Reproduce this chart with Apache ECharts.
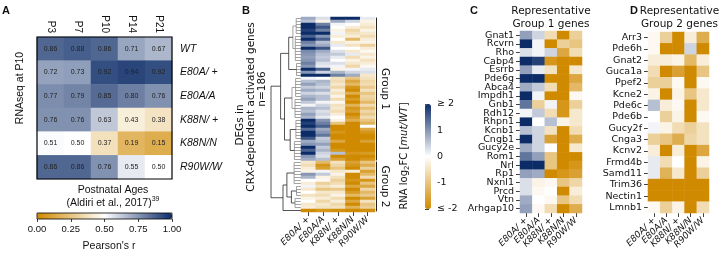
<!DOCTYPE html>
<html>
<head>
<meta charset="utf-8">
<script src="https://cdn.jsdelivr.net/npm/echarts@6/dist/echarts.min.js"></script>
<style>html,body{margin:0;padding:0;background:#fff}#chart{width:720px;height:258px}</style>
</head>
<body>
<div id="chart"></div>
<script>
// ---- panel A: Pearson's r vs Aldiri et al. ----
var ages = ['P3', 'P7', 'P10', 'P14', 'P21'];
var genotypes = ['WT', 'E80A/ +', 'E80A/A', 'K88N/ +', 'K88N/N', 'R90W/W'];
var pearsonR = [
    [0.86, 0.88, 0.86, 0.71, 0.67],
    [0.72, 0.73, 0.92, 0.94, 0.92],
    [0.77, 0.79, 0.85, 0.80, 0.76],
    [0.76, 0.76, 0.63, 0.43, 0.38],
    [0.51, 0.50, 0.37, 0.19, 0.15],
    [0.86, 0.86, 0.76, 0.55, 0.50]
];

// ---- panel B: log2FC of CRX-dependent activated DEGs (rows in clustered order) ----
var mutants = ['E80A/ +', 'E80A/A', 'K88N/ +', 'K88N/N', 'R90W/W'];
var degE80AHet = [0.8,0.6,2,2,1.8,2,1.5,2,1.2,1.0, 2,1.1,1.0,0.9,1.0,1.2,1.0,2,1.0,2, 0.1,0.6,0.9,0.5,0.8,0.4,0.7,0.9,0.5,0.1, 0.7,0.6,0.9,0.7,2,1.8,2,1.4,2,2, 1.6,0.8,1.0,2,1.5,2,1.0,0.8,-0.4,-0.6, -0.3,-0.2,1.0,0.7,0.0,-0.3,0.1,-0.4,0.0,-0.5, -0.2,0.0,-0.4,-0.3,-2];
var degE80AHom = [0.3,-0.2,1.2,1.6,1.2,2,1.0,1.5,0.6,0.8, 1.6,0.8,0.6,0.5,0.6,0.3,0.2,1.5,0.4,2, 0.0,0.7,0.6,0.4,0.7,0.3,0.6,0.6,0.1,0.4, 0.6,0.3,0.4,0.2,1.0,1.2,1.5,0.8,1.0,1.3, 0.5,0.6,0.9,0.5,0.7,0.4,0.3,0.6,-1.2,-1.8, -1.6,0.1,0.5,-0.2,-0.1,-0.8,-0.5,-1.0,-0.4,-0.6, -0.3,-0.7,-0.4,-0.5,-1.8];
var degK88NHet = [2,0.8,0.1,0.0,-0.2,0.1,-0.3,0.0,-0.4,0.2, 0.0,0.3,0.5,0.2,0.0,0.3,0.1,-0.2,0.7,1.2, -0.5,-0.6,-0.4,-0.7,-0.3,-0.5,-0.2,-0.6,-0.1,-0.5, -0.4,-0.6,-0.3,0.0,-0.2,-1.0,-2,-2,-1.8,-2, -2,-1.5,-2,-2,-1.8,0.6,-2,-1.6,-0.5,-0.7, -1.0,-0.4,-0.2,-0.5,-0.8,-0.6,-0.3,-0.9,-0.4,-0.2, -0.6,-0.3,-0.7,-0.5,-1.9];
var degK88NHom = [2,0.4,0.0,-0.3,-0.7,-0.5,-0.3,-1.2,-0.2,-0.5, 0.0,-0.4,0.2,-0.6,-0.2,-0.4,-0.7,0.1,0.4,0.8, -1.0,-1.5,-1.2,-1.8,-2,-1.4,-2,-1.7,-2,-1.3, -1.8,-1.6,-2,-1.7,-1.4,-2,-2,-2,-2,-2, -2,-2,-2,-2,-2,-1.8,-2,-2,-1.6,-1.8, -2,-0.3,-2,-2,-1.8,-2,-1.5,-2,-1.7,-1.2, -2,-1.5,-2,-1.3,-2];
var degR90WHom = [0.2,-0.2,-0.3,-0.5,-0.2,-0.4,-0.6,-0.3,-0.2,-0.8, -0.3,-0.1,-0.4,-0.2,-0.5,-0.3,-0.1,0.2,0.3,-0.4, -0.5,-0.7,-0.6,-0.9,-0.5,-1.0,-0.7,-0.8,-1.2,-0.6, -1.1,-0.7,-0.9,-0.6,-1.0,-1.3,0.0,-1.5,-1.8,-2, -2,-1.6,-2,-2,-2,-1.7,-2,-1.8,-1.0,-1.4, -0.8,-1.6,-1.2,-0.6,-1.8,-1.0,-1.5,-0.7,-1.2,-0.9, -1.6,-0.5,-1.0,-0.8,-1.9];
var groupNames = ['Group 1', 'Group 2'];
var groupRows = [[0, 47], [48, 64]];
// dendrogram: [height, childA, childB]; a leaf cluster is [height, firstRow, lastRow]
var dendroTree = [10,
    [6.8,
        [4.1, [2.7, [1.6, 0, 5], [1.9, 6, 14]], [1.5, 15, 19]],
        [5.5, [3.0, [1.8, 20, 26], [2.0, 27, 33]], [3.6, [1.7, 34, 40], [2.2, 41, 47]]]],
    [6.0,
        [4.7, [2.3, 48, 55], [3.2, [1.5, 56, 59], [2.0, 60, 63]]],
        [0, 64, 64]]];
var fcTicks = [-2, -1, 0, 1, 2];
var fcTickLabels = ['≤ -2', '-1', '0', '1', '≥ 2'];

// ---- panels C and D: representative genes ----
var group1Genes = ['Gnat1','Rcvrn','Rho','Cabp4','Esrrb','Pde6g','Abca4','Impdh1','Gnb1','Rdh12','Rhpn1','Kcnb1','Cngb1','Gucy2e','Rom1','Nrl','Rp1','Nxnl1','Prcd','Vtn','Arhgap10'];
var group1FC = [
    [0.9, 0.4, -0.6, -2, -0.8],
    [2, 0.1, -2, -0.8, -1.0],
    [0.3, 0.1, 0.4, -1.5, -0.6],
    [2, 1.8, -1.8, -2, -2],
    [0.9, 0.2, -0.5, -2, -0.4],
    [2, 2, -2, -2, -1.5],
    [0.8, 0.5, -0.6, -2, -1.2],
    [2, 0.1, -2, -2, -0.1],
    [1.3, -0.8, 0.1, -1.8, -0.8],
    [0.1, 0.5, -0.6, -1.8, -0.4],
    [2, 0.0, 0.6, -0.2, -0.4],
    [0.6, 0.4, -0.5, -2, -0.6],
    [2, 0.4, -1.6, -2, -1.4],
    [0.8, 0.4, 0.0, -2, -0.4],
    [1.3, 0.9, -1.0, -2, -2],
    [2, 2, -1.0, -2, -1.8],
    [0.9, 0.8, -2, -1.8, -1.6],
    [0.3, -0.2, -0.1, -1.0, -0.7],
    [0.3, -0.1, 0.0, -2, -0.3],
    [0.8, 0.0, -0.1, -1.0, -0.6],
    [0.9, -0.1, -0.6, -2, -1.4]
];
var group2Genes = ['Arr3','Pde6h','Gnat2','Guca1a','Ppef2','Kcne2','Pde6c','Pde6b','Gucy2f','Cnga3','Kcnv2','Frmd4b','Samd11','Trim36','Nectin1','Lmnb1'];
var group2FC = [
    [-0.1, -0.8, -2, -0.3, -1.4],
    [-0.1, -2, -2, 0.4, -2],
    [-0.3, -0.3, -0.2, -1.2, -0.3],
    [-0.6, -2, -1.6, -2, -1.0],
    [-0.8, -0.8, -0.1, -2, -0.1],
    [-0.2, -2, -0.2, -1.0, -0.4],
    [0.6, -0.3, -0.1, -2, -0.4],
    [0.0, -0.8, -0.2, -2, -0.1],
    [0.1, -0.2, -0.6, -0.8, -0.5],
    [-0.8, -1.0, -1.4, -0.7, -0.5],
    [-0.3, -2, -0.3, -2, -1.5],
    [0.2, -0.6, 0.0, -2, -0.2],
    [0.2, -1.3, -0.4, -2, -0.8],
    [-2, -2, -2, -2, -2],
    [-2, -2, -2, -2, -2],
    [-0.1, -0.8, -0.2, -2, -0.6]
];

var palette = ['#d08a00', '#ffffff', '#0c2c68'];
var fontA = 'Liberation Sans';
var fontB = 'DejaVu Sans';
var ink = '#111';

var gA = {left: 37, top: 37, width: 135, height: 142};
var gAcb = {left: 37, top: 213, width: 135, height: 6};
var gDen = {left: 271, top: 17, width: 30, height: 195};
var gB = {left: 301, top: 17, width: 74, height: 195};
var gBcb = {left: 425, top: 104, width: 6, height: 105};
var gC = {left: 520, top: 31, width: 62, height: 182};
var gD = {left: 648, top: 32, width: 61, height: 181};

function matrixToCells(rows) {
    var out = [];
    for (var r = 0; r < rows.length; r++) {
        for (var c = 0; c < rows[r].length; c++) {
            out.push([c, r, rows[r][c]]);
        }
    }
    return out;
}

var degColumns = [degE80AHet, degE80AHom, degK88NHet, degK88NHom, degR90WHom];
var degRows = degE80AHet.map(function(v, i) { return 'g' + i; });
var degCells = [];
for (var c = 0; c < degColumns.length; c++) {
    for (var r = 0; r < degColumns[c].length; r++) {
        degCells.push([c, r, degColumns[c][r]]);
    }
}

// turn the tree into line segments [h1, row1, h2, row2]
var dendroSegs = [];
function walk(node) {
    var h = node[0];
    if (typeof node[1] === 'number') {
        var a = node[1], b = node[2];
        if (a === b) return {y: a, h: h};
        for (var i = a; i <= b; i++) dendroSegs.push([0, i, h, i]);
        dendroSegs.push([h, a, h, b]);
        return {y: (a + b) / 2, h: h};
    }
    var l = walk(node[1]);
    var r = walk(node[2]);
    dendroSegs.push([l.h, l.y, h, l.y]);
    dendroSegs.push([r.h, r.y, h, r.y]);
    dendroSegs.push([h, l.y, h, r.y]);
    return {y: (l.y + r.y) / 2, h: h};
}
walk(dendroTree);

function gridOf(g) {
    return {left: g.left, top: g.top, width: g.width, height: g.height, outerBoundsMode: 'none', containLabel: false};
}
function catX(grid, data) {
    return {
        type: 'category', gridIndex: grid, data: data, position: 'bottom',
        axisLine: {show: false}, axisTick: {show: true, alignWithLabel: true, length: 4, lineStyle: {color: ink, width: 0.8}},
        axisLabel: {rotate: 45, fontFamily: fontB, fontStyle: 'italic', fontSize: 9, color: ink, margin: 6, interval: 0},
        splitLine: {show: false}
    };
}
function geneY(grid, data) {
    return {
        type: 'category', gridIndex: grid, data: data, inverse: true, position: 'left',
        axisLine: {show: false}, axisTick: {show: true, alignWithLabel: true, length: 4, lineStyle: {color: ink, width: 0.8}},
        axisLabel: {fontFamily: fontB, fontSize: 9.5, color: ink, margin: 6, interval: 0},
        splitLine: {show: false}
    };
}
function hiddenAxis(grid, type, min, max, inverse) {
    return {type: type, gridIndex: grid, min: min, max: max, inverse: !!inverse, show: false, splitLine: {show: false}};
}

var chart = echarts.init(document.getElementById('chart'), null, {renderer: 'canvas'});
var option = {
    animation: false,
    backgroundColor: '#fff',
    grid: [gridOf(gA), gridOf(gAcb), gridOf(gDen), gridOf(gB), gridOf(gBcb), gridOf(gC), gridOf(gD)],
    xAxis: [
        {
            type: 'category', gridIndex: 0, data: ages, position: 'top',
            axisLine: {show: false}, axisTick: {alignWithLabel: true, length: 4, lineStyle: {color: ink, width: 0.8}},
            axisLabel: {rotate: 90, fontFamily: fontA, fontSize: 10, color: ink, margin: 4}
        },
        {
            type: 'value', gridIndex: 1, min: 0, max: 1, interval: 0.25, position: 'bottom',
            axisLine: {show: false}, splitLine: {show: false},
            axisTick: {show: true, length: 3, lineStyle: {color: ink, width: 0.8}},
            axisLabel: {fontFamily: fontA, fontSize: 9.5, color: ink, margin: 5, formatter: function(v) { return v.toFixed(2); }}
        },
        hiddenAxis(2, 'value', 0, 10, true),
        catX(3, mutants),
        hiddenAxis(4, 'value', 0, 1),
        catX(5, mutants),
        catX(6, mutants)
    ],
    yAxis: [
        {
            type: 'category', gridIndex: 0, data: genotypes, inverse: true, position: 'right',
            axisLine: {show: false}, axisTick: {alignWithLabel: true, length: 4, lineStyle: {color: ink, width: 0.8}},
            axisLabel: {fontFamily: fontA, fontStyle: 'italic', fontSize: 10.5, color: ink, margin: 8}
        },
        hiddenAxis(1, 'value', 0, 1),
        hiddenAxis(2, 'value', -0.5, degRows.length - 0.5, true),
        {type: 'category', gridIndex: 3, data: degRows, inverse: true, show: false},
        {
            type: 'value', gridIndex: 4, min: -2, max: 2, interval: 1, position: 'right',
            axisLine: {show: false}, splitLine: {show: false},
            axisTick: {show: true, length: 4, lineStyle: {color: ink, width: 0.8}},
            axisLabel: {fontFamily: fontB, fontSize: 9.5, color: ink, margin: 6, formatter: function(v) { return fcTickLabels[fcTicks.indexOf(v)]; }}
        },
        geneY(5, group1Genes),
        geneY(6, group2Genes)
    ],
    visualMap: [
        {
            type: 'continuous', min: 0, max: 1, seriesIndex: [0], orient: 'horizontal',
            left: gAcb.left, top: gAcb.top, itemWidth: gAcb.height, itemHeight: gAcb.width,
            padding: 0, calculable: false, hoverLink: false, realtime: false,
            inRange: {color: palette}
        },
        {
            type: 'continuous', min: -2, max: 2, seriesIndex: [2, 3, 4], orient: 'vertical',
            left: gBcb.left, top: gBcb.top, itemWidth: gBcb.width, itemHeight: gBcb.height,
            padding: 0, calculable: false, hoverLink: false, realtime: false,
            inRange: {color: palette}
        }
    ],
    series: [
        {
            type: 'heatmap', xAxisIndex: 0, yAxisIndex: 0, data: matrixToCells(pearsonR), silent: true,
            label: {show: true, fontFamily: fontA, fontSize: 7, color: '#222', formatter: function(p) { return p.value[2].toFixed(2); }},
            itemStyle: {borderWidth: 0}
        },
        {
            type: 'custom', xAxisIndex: 2, yAxisIndex: 2, data: dendroSegs, silent: true,
            encode: {x: [0, 2], y: [1, 3]},
            renderItem: function(params, api) {
                var p1 = api.coord([api.value(0), api.value(1)]);
                var p2 = api.coord([api.value(2), api.value(3)]);
                return {
                    type: 'line',
                    shape: {x1: p1[0], y1: p1[1], x2: p2[0], y2: p2[1]},
                    style: {stroke: api.value(2) > 3 ? '#2a2a2a' : '#8c8c8c', lineWidth: 0.8}
                };
            }
        },
        {type: 'heatmap', xAxisIndex: 3, yAxisIndex: 3, data: degCells, silent: true, itemStyle: {borderWidth: 0}},
        {type: 'heatmap', xAxisIndex: 5, yAxisIndex: 5, data: matrixToCells(group1FC), silent: true, itemStyle: {borderWidth: 0}},
        {type: 'heatmap', xAxisIndex: 6, yAxisIndex: 6, data: matrixToCells(group2FC), silent: true, itemStyle: {borderWidth: 0}}
    ]
};
chart.setOption(option);

// annotations placed from the axes
function txt(x, y, text, size, opts) {
    return Object.assign({
        type: 'text', x: x, y: y, silent: true,
        style: {text: text, fontFamily: fontB, fontSize: size, fill: ink, align: 'center', verticalAlign: 'middle'}
    }, opts || {});
}
function letter(x, t) {
    return {type: 'text', x: x, y: 11, silent: true,
        style: {text: t, fontFamily: fontA, fontWeight: 'bold', fontSize: 11, fill: ink, align: 'center', verticalAlign: 'middle'}};
}
function frame(g, w) {
    return {type: 'rect', silent: true, z: 10, shape: {x: g.left, y: g.top, width: g.width, height: g.height},
        style: {fill: 'none', stroke: '#000', lineWidth: w}};
}
var graphics = [
    letter(6, 'A'), letter(246, 'B'), letter(474, 'C'), letter(634, 'D'),
    frame(gA, 1.2),
    frame(gAcb, 0.8),
    {type: 'text', x: 20, y: 88, rotation: Math.PI / 2, silent: true,
        style: {text: 'RNAseq at P10', fontFamily: fontA, fontSize: 10.5, fill: ink, align: 'center', verticalAlign: 'middle'}},
    {type: 'text', x: 113, y: 190, silent: true,
        style: {text: 'Postnatal Ages', fontFamily: fontA, fontSize: 10.5, fill: ink, align: 'center', verticalAlign: 'middle'}},
    {type: 'text', x: 113, y: 203, silent: true,
        style: {text: '(Aldiri et al., 2017){sup|39}', fontFamily: fontA, fontSize: 10.5, fill: ink, align: 'center', verticalAlign: 'middle',
            rich: {sup: {fontFamily: fontA, fontSize: 7, fill: ink, verticalAlign: 'top', lineHeight: 14}}}},
    {type: 'text', x: 109, y: 246, silent: true,
        style: {text: "Pearson's r", fontFamily: fontA, fontSize: 10.5, fill: ink, align: 'center', verticalAlign: 'middle'}},
    txt(240, 125, 'DEGs in', 10.5, {rotation: Math.PI / 2}),
    txt(251, 107, 'CRX-dependent activated genes', 10.5, {rotation: Math.PI / 2}),
    txt(262, 89, 'n=186', 10.5, {rotation: Math.PI / 2}),
    {type: 'text', x: 404, y: 156, rotation: Math.PI / 2, silent: true,
        style: {text: 'RNA log{sub|2}FC [{it|mut/WT}]', fontFamily: fontB, fontSize: 10, fill: ink, align: 'center', verticalAlign: 'middle',
            rich: {sub: {fontFamily: fontB, fontSize: 7, fill: ink, verticalAlign: 'bottom', lineHeight: 14},
                   it: {fontFamily: fontB, fontStyle: 'italic', fontSize: 10, fill: ink}}}},
    txt(gC.left + gC.width / 2, 11, 'Representative', 10.5),
    txt(gC.left + gC.width / 2, 24, 'Group 1 genes', 10.5),
    txt(gD.left + gD.width / 2 + 1, 11, 'Representative', 10.5),
    txt(gD.left + gD.width / 2 + 1, 24, 'Group 2 genes', 10.5)
];
var bx = gB.left + gB.width + 1.5;
for (var k = 0; k < groupRows.length; k++) {
    var y0 = chart.convertToPixel({yAxisIndex: 2}, groupRows[k][0] - 0.3);
    var y1 = chart.convertToPixel({yAxisIndex: 2}, groupRows[k][1] + 0.3);
    graphics.push({type: 'line', silent: true, shape: {x1: bx, y1: y0, x2: bx, y2: y1}, style: {stroke: '#222', lineWidth: 1}});
    graphics.push(txt(bx + 8, (y0 + y1) / 2, groupNames[k], 10.5, {rotation: -Math.PI / 2}));
}
chart.setOption({graphic: graphics});
</script>
</body>
</html>
